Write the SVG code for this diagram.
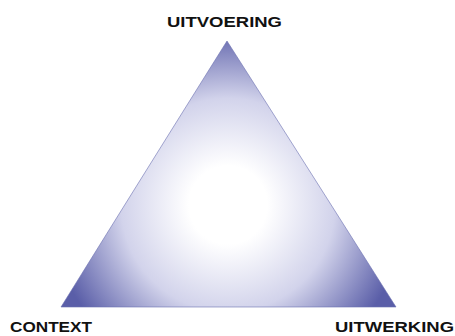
<svg xmlns="http://www.w3.org/2000/svg" width="455" height="336" viewBox="0 0 455 336">
<style>
.lbl{font-family:"Liberation Sans",Arial,sans-serif;font-weight:bold;font-size:14px;fill:#111}
</style>
<defs>
<radialGradient id="g" gradientUnits="userSpaceOnUse" cx="228" cy="205" r="178">
<stop offset="0" stop-color="#ffffff"/>
<stop offset="0.22" stop-color="#ffffff"/>
<stop offset="0.6" stop-color="#d2d3eb"/>
<stop offset="1" stop-color="#5a5ea8"/>
</radialGradient>
</defs>
<g id="triangle">
<polygon points="227,41 61,307 396,307" fill="url(#g)" stroke="#6a6eb0" stroke-width="0.6"/>
</g>
<g id="uitvoering"><text class="lbl" x="167" y="27" textLength="115" lengthAdjust="spacingAndGlyphs">UITVOERING</text></g>
<g id="context"><text class="lbl" x="10" y="332" textLength="82" lengthAdjust="spacingAndGlyphs">CONTEXT</text></g>
<g id="uitwerking"><text class="lbl" x="335" y="332" textLength="119" lengthAdjust="spacingAndGlyphs">UITWERKING</text></g>
<g id="connectors"></g>
</svg>
